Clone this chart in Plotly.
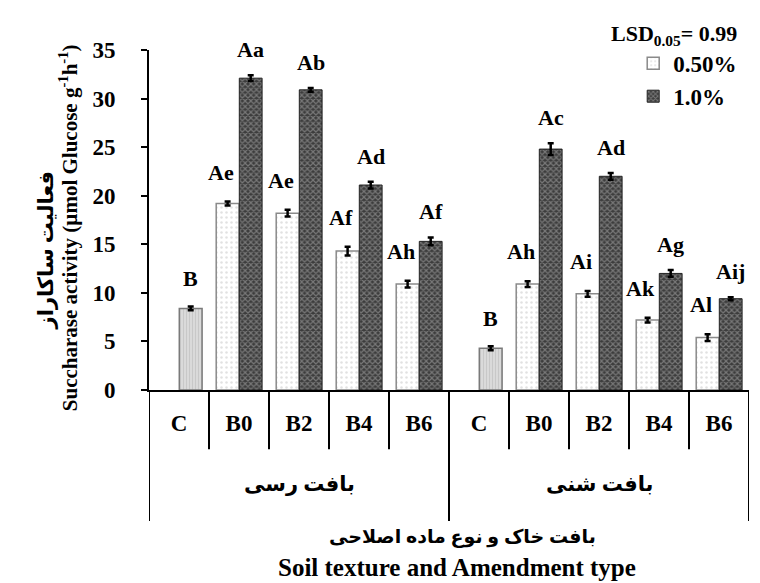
import plotly.graph_objects as go

# ---- data ----
textures = ["بافت رسی", "بافت شنی"]
amendments = ["C", "B0", "B2", "B4", "B6"]
slot_labels = amendments * 2

# control (C) values per texture
control_vals = [8.4, 4.3]
control_err = [0.2, 0.2]
control_letters = ["B", "B"]

# 0.50% and 1.0% values for B0, B2, B4, B6 (clay then sand)
half_vals = [19.2, 18.2, 14.3, 10.9, 10.9, 9.9, 7.2, 5.4]
half_err = [0.2, 0.35, 0.45, 0.35, 0.3, 0.3, 0.25, 0.35]
half_letters = ["Ae", "Ae", "Af", "Ah", "Ah", "Ai", "Ak", "Al"]

one_vals = [32.1, 30.9, 21.1, 15.3, 24.8, 22.0, 12.0, 9.4]
one_err = [0.3, 0.2, 0.35, 0.4, 0.6, 0.35, 0.35, 0.15]
one_letters = ["Aa", "Ab", "Ad", "Af", "Ac", "Ad", "Ag", "Aij"]

y_ticks = [0, 5, 10, 15, 20, 25, 30, 35]

# ---- positions derived from category indices ----
n_amend = len(amendments)
control_x = [t * n_amend for t in range(len(textures))]
treat_x = [t * n_amend + k for t in range(len(textures)) for k in range(1, n_amend)]

FONT = "Liberation Serif, 'Times New Roman', DejaVu Sans, serif"
BW = 0.38
OFF_HALF = -0.38
OFF_ONE = 0.005

fig = go.Figure()

fig.add_trace(go.Bar(
    x=control_x, y=control_vals, width=BW, offset=OFF_ONE,
    name="Control", showlegend=False,
    marker=dict(color="#d6d6d6", line=dict(color="#7a7a7a", width=1.5),
                pattern=dict(shape="|", fgcolor="#b4b4b4", bgcolor="#dcdcdc", size=3, solidity=0.4)),
    error_y=dict(type="data", array=control_err, color="black", thickness=2.5, width=3),
))
fig.add_trace(go.Bar(
    x=treat_x, y=half_vals, width=BW, offset=OFF_HALF,
    name="0.50%",
    marker=dict(color="white", line=dict(color="#8a8a8a", width=1.5),
                pattern=dict(shape=".", fgcolor="#c4c4c4", bgcolor="white", size=5, solidity=0.2)),
    error_y=dict(type="data", array=half_err, color="black", thickness=2.5, width=3),
))
fig.add_trace(go.Bar(
    x=treat_x, y=one_vals, width=BW, offset=OFF_ONE,
    name="1.0%",
    marker=dict(color="#666666", line=dict(color="#222222", width=1),
                pattern=dict(shape="x", fgcolor="#b4b4b4", bgcolor="#3c3c3c", size=4, solidity=0.5)),
    error_y=dict(type="data", array=one_err, color="black", thickness=2.5, width=3),
))

anns = []
lab_font = dict(family=FONT, size=22, color="black")
for x, v, e, t in zip(control_x, control_vals, control_err, control_letters):
    anns.append(dict(x=x + OFF_ONE + BW / 2, y=v + e, xref="x", yref="y", text=f"<b>{t}</b>",
                     showarrow=False, yanchor="bottom", yshift=13, font=lab_font))
for x, v, e, t in zip(treat_x, half_vals, half_err, half_letters):
    anns.append(dict(x=x + OFF_HALF + BW / 2, y=v + e, xref="x", yref="y", text=f"<b>{t}</b>",
                     showarrow=False, yanchor="bottom", yshift=15, xshift=-7, font=lab_font))
for x, v, e, t in zip(treat_x, one_vals, one_err, one_letters):
    anns.append(dict(x=x + OFF_ONE + BW / 2, y=v + e, xref="x", yref="y", text=f"<b>{t}</b>",
                     showarrow=False, yanchor="bottom", yshift=11, font=lab_font))

# outer texture labels
for t, name in enumerate(textures):
    anns.append(dict(x=t * n_amend + (n_amend - 1) / 2, y=-0.317, xref="x", yref="paper",
                     text=f"<b>{name}</b>", showarrow=False, font=dict(family=FONT, size=21)))

# axis titles
anns.append(dict(x=0.523, y=-0.472, xref="paper", yref="paper",
                 text="<b>بافت خاک و نوع ماده اصلاحی</b>", showarrow=False,
                 font=dict(family=FONT, size=19)))
anns.append(dict(x=0.513, y=-0.568, xref="paper", yref="paper",
                 text="<b>Soil texture and Amendment type</b>", showarrow=False,
                 font=dict(family=FONT, size=25)))
anns.append(dict(x=-0.135, y=0.476, xref="paper", yref="paper", textangle=-90,
                 xanchor="center", yanchor="middle",
                 text="<b>Succharase activity (µmol Glucose g<sup>-1</sup>h<sup>-1</sup>)</b>",
                 showarrow=False, font=dict(family=FONT, size=21)))
anns.append(dict(x=-0.172, y=0.41, xref="paper", yref="paper", textangle=-90,
                 xanchor="center", yanchor="middle",
                 text="<b>فعالیت ساکاراز</b>", showarrow=False,
                 font=dict(family=FONT, size=21)))
anns.append(dict(x=0.875, y=1.044, xref="paper", yref="paper",
                 xanchor="center", yanchor="middle",
                 text="<b>LSD<sub>0.05</sub>= 0.99</b>", showarrow=False,
                 font=dict(family=FONT, size=22)))

# category divider lines below the axis
shapes = []
n_slots = len(slot_labels)
for b in range(n_slots + 1):
    outer = (b % n_amend == 0)
    shapes.append(dict(type="line", xref="x", yref="paper", x0=b - 0.5, x1=b - 0.5,
                       y0=0, y1=-0.385 if outer else -0.174,
                       line=dict(color="black", width=2)))

fig.update_layout(
    width=760, height=583,
    margin=dict(l=141, r=19, t=42, b=201),
    paper_bgcolor="white", plot_bgcolor="white",
    barmode="overlay",
    font=dict(family=FONT, size=20, color="black"),
    annotations=anns, shapes=shapes,
    legend=dict(x=0.807, y=1.024, xanchor="left", yanchor="top",
                font=dict(family=FONT, size=23, color="black", weight="bold"),
                bgcolor="rgba(0,0,0,0)", itemwidth=30, tracegroupgap=0),
    xaxis=dict(range=[-0.5, n_slots - 0.5], tickmode="array",
               tickvals=list(range(n_slots)), ticktext=[f"<b>{s}</b>" for s in slot_labels],
               ticks="", showline=True, linecolor="black", linewidth=2,
               showgrid=False, zeroline=False, ticklabelstandoff=11,
               tickfont=dict(family=FONT, size=23), fixedrange=True),
    yaxis=dict(range=[0, 35], tickmode="array", tickvals=y_ticks,
               ticktext=[f"<b>{v}</b>" for v in y_ticks],
               ticks="outside", ticklen=6, tickwidth=2, tickcolor="black",
               showline=True, linecolor="black", linewidth=2,
               showgrid=False, zeroline=False, ticklabelstandoff=21,
               tickfont=dict(family=FONT, size=23), fixedrange=True),
)

fig.write_html("out.html")
